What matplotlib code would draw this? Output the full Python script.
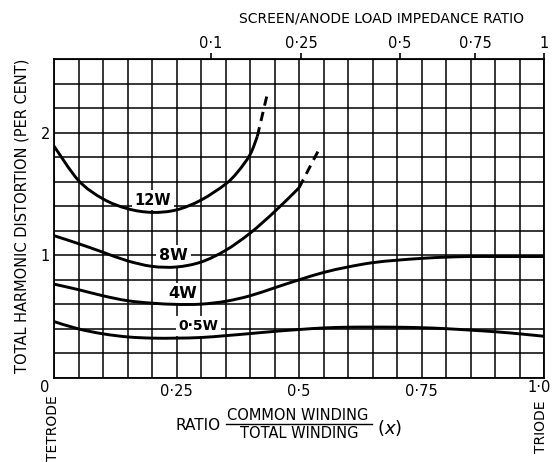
import numpy as np
import matplotlib
matplotlib.use("Agg")
import matplotlib.pyplot as plt
from matplotlib.lines import Line2D
from matplotlib.path import Path
from matplotlib.patches import PathPatch
from matplotlib import font_manager

names = {f.name for f in font_manager.fontManager.ttflist}
FONT = 'Liberation Sans Narrow' if 'Liberation Sans Narrow' in names else 'DejaVu Sans'
plt.rcParams['font.family'] = [FONT, 'DejaVu Sans']

# ---- data ----
x_full = [0.0, 0.05, 0.10, 0.15, 0.20, 0.25, 0.30, 0.35, 0.40, 0.45, 0.50,
          0.55, 0.60, 0.65, 0.70, 0.75, 0.80, 0.85, 0.90, 0.95, 1.0]

x_12w = [0.0, 0.05, 0.10, 0.15, 0.20, 0.25, 0.30, 0.35, 0.375, 0.40, 0.415]
y_12w = [1.89, 1.61, 1.46, 1.38, 1.35, 1.37, 1.45, 1.58, 1.68, 1.82, 1.97]
x_12w_dash = [0.415, 0.435]
y_12w_dash = [1.97, 2.31]

x_8w = [0.0, 0.05, 0.10, 0.15, 0.20, 0.25, 0.30, 0.35, 0.40, 0.45, 0.50]
y_8w = [1.16, 1.095, 1.025, 0.955, 0.91, 0.905, 0.945, 1.04, 1.18, 1.355, 1.55]
x_8w_dash = [0.50, 0.543]
y_8w_dash = [1.55, 1.88]

y_4w = [0.765, 0.72, 0.67, 0.63, 0.61, 0.60, 0.602, 0.625, 0.67, 0.735, 0.80,
        0.86, 0.905, 0.94, 0.96, 0.975, 0.985, 0.99, 0.99, 0.99, 0.99]
y_05w = [0.46, 0.40, 0.36, 0.335, 0.325, 0.325, 0.33, 0.345, 0.362, 0.38, 0.395,
         0.408, 0.414, 0.415, 0.414, 0.41, 0.402, 0.39, 0.377, 0.36, 0.34]

curve_labels = ["12W", "8W", "4W", "0·5W"]
curve_label_pos = [(0.202, 1.45), (0.244, 1.0), (0.262, 0.69), (0.295, 0.425)]
curve_label_size = [10.5, 11.5, 11.5, 10]

bottom_ticks = [0.25, 0.5, 0.75]
bottom_labels = ["0·25", "0·5", "0·75"]
left_ticks = [1, 2]
left_labels = ["1", "2"]
top_ticks = [0.32, 0.505, 0.706, 0.859, 1.0]
top_labels = ["0·1", "0·25", "0·5", "0·75", "1"]

x_grid = [i * 0.05 for i in range(21)]
y_grid = [i * 0.2 for i in range(14)]


def smooth_curve(ax, xs, ys, **kw):
    """Draw a smooth Bezier curve through the given data points."""
    P = np.column_stack([xs, ys]).astype(float)
    n = len(P)
    verts = [P[0]]
    codes = [Path.MOVETO]
    for i in range(n - 1):
        p0 = P[i - 1] if i > 0 else P[i]
        p1 = P[i]
        p2 = P[i + 1]
        p3 = P[i + 2] if i + 2 < n else P[i + 1]
        c1 = p1 + (p2 - p0) / 6.0
        c2 = p2 - (p3 - p1) / 6.0
        verts += [c1, c2, p2]
        codes += [Path.CURVE4] * 3
    patch = PathPatch(Path(verts, codes), fill=False, transform=ax.transData, **kw)
    ax.add_patch(patch)


# ---- figure ----
W, H = 556, 462
fig = plt.figure(figsize=(W / 100, H / 100), dpi=100)
L, R, T, B = 54, 544, 59, 378
ax = fig.add_axes([L / W, 1 - B / H, (R - L) / W, (B - T) / H])
ax.set_xlim(0, 1)
ax.set_ylim(0, 2.6)

for xv in x_grid:
    ax.axvline(xv, color='black', lw=1.1, zorder=1)
for yv in y_grid:
    ax.axhline(yv, color='black', lw=1.1, zorder=1)
for s in ax.spines.values():
    s.set_linewidth(1.3)

lw = 2.1
smooth_curve(ax, x_12w, y_12w, edgecolor='black', lw=lw, zorder=4)
ax.plot(x_12w_dash, y_12w_dash, color='black', lw=lw, ls=(0, (3.2, 2.2)), zorder=4)
smooth_curve(ax, x_8w, y_8w, edgecolor='black', lw=lw, zorder=4)
ax.plot(x_8w_dash, y_8w_dash, color='black', lw=lw, ls=(0, (3.2, 2.2)), zorder=4)
smooth_curve(ax, x_full, y_4w, edgecolor='black', lw=lw, zorder=4)
smooth_curve(ax, x_full, y_05w, edgecolor='black', lw=lw, zorder=4)

for lab, (lx, ly), fs in zip(curve_labels, curve_label_pos, curve_label_size):
    ax.text(lx, ly, lab, fontsize=fs, ha='center', va='center', zorder=3,
            fontweight='bold',
            bbox=dict(facecolor='white', edgecolor='none', pad=2.0))

TS = 10.5
ax.set_xticks(bottom_ticks, labels=bottom_labels)
ax.set_yticks(left_ticks, labels=left_labels)
ax.tick_params(axis='both', length=0, labelsize=TS)
ax.tick_params(axis='x', pad=4)
ax.tick_params(axis='y', pad=3)

fig.text(45 / W, 1 - 387 / H, "0", fontsize=TS, ha='center', va='center')
fig.text(539 / W, 1 - 387 / H, "1·0", fontsize=TS, ha='center', va='center')

sec = ax.secondary_xaxis('top')
sec.set_xticks(top_ticks, labels=top_labels)
sec.tick_params(axis='x', direction='out', length=4, width=1.2, labelsize=TS, pad=2)

fig.text(382 / W, 1 - 19 / H, "SCREEN/ANODE LOAD IMPEDANCE RATIO", fontsize=10,
         ha='center', va='center')
fig.text(22 / W, 1 - 216 / H, "TOTAL HARMONIC DISTORTION (PER CENT)", fontsize=TS,
         rotation=90, ha='center', va='center')

fig.text(221 / W, 1 - 426 / H, "RATIO", fontsize=11, ha='right', va='center')
fig.text(298 / W, 1 - 415 / H, "COMMON WINDING", fontsize=TS, ha='center', va='center')
fig.text(299 / W, 1 - 434 / H, "TOTAL WINDING", fontsize=TS, ha='center', va='center')
fig.add_artist(Line2D([226 / W, 372 / W], [1 - 424 / H, 1 - 424 / H], color='black',
                      lw=1.0, transform=fig.transFigure))
fig.text(390 / W, 1 - 428 / H, r"$(x)$", fontsize=13, ha='center', va='center')

fig.text(53 / W, 1 - 428 / H, "TETRODE", fontsize=10, rotation=90, ha='center', va='center')
fig.text(541 / W, 1 - 427 / H, "TRIODE", fontsize=10, rotation=90, ha='center', va='center')

fig.savefig("out.png", dpi=100)
